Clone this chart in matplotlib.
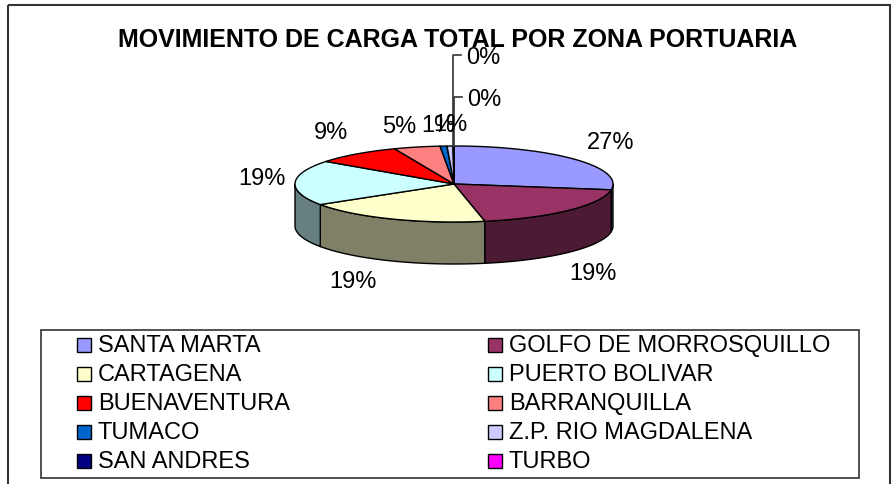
import matplotlib
matplotlib.use("Agg")
import matplotlib.pyplot as plt
import numpy as np
from matplotlib.patches import Polygon, Rectangle
from matplotlib.colors import to_rgb

# ---------------- data ----------------
title = "MOVIMIENTO DE CARGA TOTAL POR ZONA PORTUARIA"
zones = ["SANTA MARTA", "GOLFO DE MORROSQUILLO", "CARTAGENA", "PUERTO BOLIVAR",
         "BUENAVENTURA", "BARRANQUILLA", "TUMACO", "Z.P. RIO MAGDALENA",
         "SAN ANDRES", "TURBO"]
shares = [27.45, 19.45, 19.0, 19.2, 8.8, 4.7, 0.7, 0.6, 0.06, 0.04]
colors = ["#9999FF", "#993366", "#FFFFCC", "#CCFFFF", "#FF0000",
          "#FF8080", "#0066CC", "#CCCCFF", "#000080", "#FF00FF"]

# ---------------- layout ----------------
FONT = "Liberation Sans"
W, H = 895, 485
fig = plt.figure(figsize=(W / 100, H / 100), dpi=100)
ax = fig.add_axes([0, 0, 1, 1])
ax.set_xlim(0, W)
ax.set_ylim(H, 0)
ax.axis("off")

# outer chart frame
ax.add_patch(Rectangle((8, 6), 882, 490, fill=False, ec="#333333", lw=1.5))

ax.text(457.5, 40, title, ha="center", va="center", fontsize=18,
        fontweight="bold", family=FONT)

cx, cy, rx, ry, depth = 454, 185, 159, 38, 42
fr = np.array(shares) / np.sum(shares)
starts = 90 - 360 * np.concatenate([[0], np.cumsum(fr)[:-1]])
ends = starts - 360 * fr


def pt(th, dy=0.0):
    t = np.radians(th)
    return (cx + rx * np.cos(t), cy - ry * np.sin(t) + dy)


# side walls (front half only)
for s, e, c in zip(starts, ends, colors):
    a, b = max(e, -180), min(s, 0)
    if b > a:
        th = np.linspace(b, a, 80)
        poly = [pt(t) for t in th] + [pt(t, depth) for t in th[::-1]]
        dark = tuple(v * 0.5 for v in to_rgb(c))
        ax.add_patch(Polygon(poly, closed=True, fc=dark, ec="black", lw=1.0,
                             joinstyle="round"))

# top faces
for s, e, c in zip(starts, ends, colors):
    th = np.linspace(s, e, max(3, int(abs(s - e) * 2)))
    poly = [(cx, cy)] + [pt(t) for t in th]
    ax.add_patch(Polygon(poly, closed=True, fc=c, ec="black", lw=1.0,
                         joinstyle="round"))

# percentage labels
nudges = [(0, 0), (-10, 2), (-20, -4), (15, -4), (4, -1), (-7, 5), (-2, 5), (2, 5)]
mids = (starts + ends) / 2
for i, (v, m) in enumerate(zip(fr, mids)):
    lab = f"{round(v * 100):.0f}%"
    t = np.radians(m)
    if i < len(nudges):
        x = cx + 1.3 * rx * np.cos(t) + nudges[i][0]
        y = cy - 1.7 * ry * np.sin(t) + (depth if np.sin(t) < 0 else 0) + nudges[i][1]
        ax.text(x, y, lab, ha="center", va="center", fontsize=17, family=FONT)

# leader-line labels for the tiny slices
lead_levels = [58, 100]
for k, i in enumerate(range(len(nudges), len(fr))):
    lab = f"{round(fr[i] * 100):.0f}%"
    x0, y0 = pt(mids[i])
    ax.plot([x0, x0, x0 + 8], [y0, lead_levels[k] - 2, lead_levels[k] - 2],
            color="#333333", lw=1.2)
    ax.text(x0 + 13, lead_levels[k], lab, ha="left", va="center",
            fontsize=17, family=FONT)

# legend (two columns, row-wise order)
lx0, ly0, lx1, ly1 = 41, 331, 859, 479
ax.add_patch(Rectangle((lx0, ly0), lx1 - lx0, ly1 - ly0, fill=False,
                       ec="#333333", lw=1.2))
col_x = [77, 488]
row_y = [346, 375, 404, 433, 462]
msz = 14
for i, (z, c) in enumerate(zip(zones, colors)):
    r, col = divmod(i, 2)
    mx, my = col_x[col], row_y[r]
    ax.add_patch(Rectangle((mx, my - msz / 2), msz, msz, fc=c, ec="black", lw=1.0))
    ax.text(mx + msz + 7, my, z, ha="left", va="center", fontsize=17,
            family=FONT)

fig.savefig("out.png", dpi=100)
